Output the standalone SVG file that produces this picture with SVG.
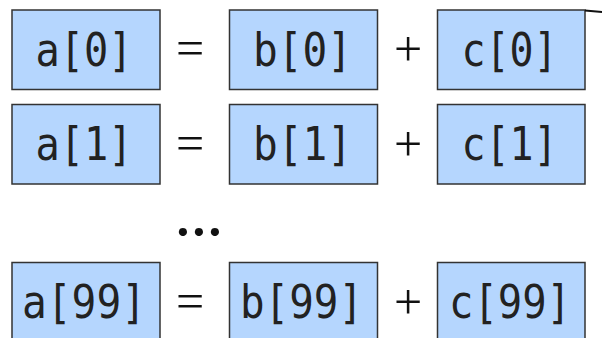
<svg xmlns="http://www.w3.org/2000/svg" width="602" height="338" viewBox="0 0 602 338">
<style>
.box{fill:#b5d6fe;stroke:#333;stroke-width:1.5}
.t{font-family:"DejaVu Sans Mono",monospace;font-size:47px;fill:#222;text-anchor:middle}
.op{font-family:"Liberation Serif",serif;font-size:50px;fill:#111;text-anchor:middle}
.conn{stroke:#111;stroke-width:2;fill:none}
</style>
<rect width="602" height="338" fill="#fff"/>
<g id="a0"><rect class="box" x="12" y="10" width="148" height="79.5"/><text class="t" x="84" y="65.5" textLength="97" lengthAdjust="spacingAndGlyphs">a[0]</text></g>
<g id="b0"><rect class="box" x="229.5" y="10" width="148" height="79.5"/><text class="t" x="302.5" y="65.5" textLength="99" lengthAdjust="spacingAndGlyphs">b[0]</text></g>
<g id="c0"><rect class="box" x="437.5" y="10" width="147.5" height="79.5"/><text class="t" x="509.5" y="65.5" textLength="96" lengthAdjust="spacingAndGlyphs">c[0]</text></g>
<g id="a1"><rect class="box" x="12" y="104.5" width="148" height="79.5"/><text class="t" x="84" y="160" textLength="97" lengthAdjust="spacingAndGlyphs">a[1]</text></g>
<g id="b1"><rect class="box" x="229.5" y="104.5" width="148" height="79.5"/><text class="t" x="302.5" y="160" textLength="99" lengthAdjust="spacingAndGlyphs">b[1]</text></g>
<g id="c1"><rect class="box" x="437.5" y="104.5" width="147.5" height="79.5"/><text class="t" x="509.5" y="160" textLength="96" lengthAdjust="spacingAndGlyphs">c[1]</text></g>
<g id="a99"><rect class="box" x="12" y="262.5" width="148" height="79.5"/><text class="t" x="84" y="318" textLength="124" lengthAdjust="spacingAndGlyphs">a[99]</text></g>
<g id="b99"><rect class="box" x="229.5" y="262.5" width="148" height="79.5"/><text class="t" x="301.5" y="318" textLength="123" lengthAdjust="spacingAndGlyphs">b[99]</text></g>
<g id="c99"><rect class="box" x="437.5" y="262.5" width="147.5" height="79.5"/><text class="t" x="510" y="318" textLength="122" lengthAdjust="spacingAndGlyphs">c[99]</text></g>
<g id="ops">
<text class="op" x="190" y="65">=</text>
<text class="op" x="408" y="66">+</text>
<text class="op" x="190" y="159.5">=</text>
<text class="op" x="408" y="160.5">+</text>
<text class="op" x="190" y="317.5">=</text>
<text class="op" x="408" y="318.5">+</text>
<text x="183 199 215" y="235.5" style="font-family:Lato,sans-serif;font-weight:bold;font-size:54px;fill:#111;text-anchor:middle">...</text>
</g>
<g id="connectors"><path class="conn" d="M585 10.5 L602 12"/></g>
</svg>
